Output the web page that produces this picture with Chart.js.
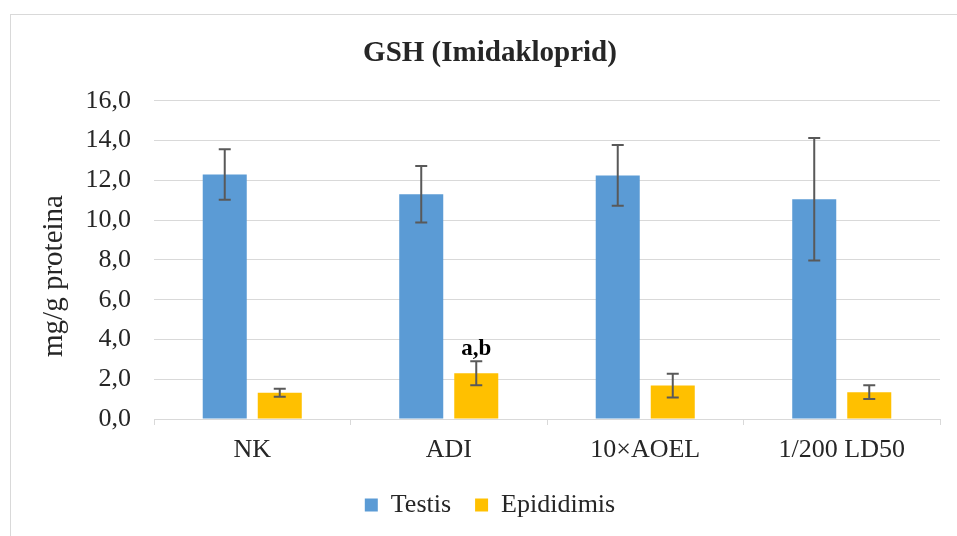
<!DOCTYPE html>
<html>
<head>
<meta charset="utf-8">
<script src="https://cdn.jsdelivr.net/npm/chart.js@4.4.1/dist/chart.umd.min.js"></script>
<style>
  html, body { margin: 0; padding: 0; background: #fff; overflow: hidden; }
  #wrap { position: relative; width: 980px; height: 580px; }
  #frame { position: absolute; left: 10px; top: 14px; width: 960px; height: 560px; border: 1px solid #d9d9d9; box-sizing: border-box; }
  canvas { position: absolute; left: 0; top: 0; }
</style>
</head>
<body>
<div id="wrap">
  <div id="frame"></div>
  <canvas id="myChart" width="980" height="580"></canvas>
</div>
<script>
const groups = ['NK', 'ADI', '10×AOEL', '1/200 LD50']
const testis = [12.3, 11.3, 12.25, 11.05]
const testisErr = [1.27, 1.42, 1.53, 3.08]
const epididimis = [1.32, 2.3, 1.68, 1.35]
const epididimisErr = [0.2, 0.6, 0.6, 0.35]
const epididimisMarks = ['', 'a,b', '', '']
const yTicks = { min: 0, max: 16, step: 2 }

const serif = '"Liberation Serif", "Times New Roman", serif'
const textColor = '#262626'
const gridColor = '#d9d9d9'

const errorBars = {
  id: 'errorBars',
  afterDatasetsDraw(chart) {
    const ctx = chart.ctx
    const y = chart.scales.y
    ctx.save()
    chart.data.datasets.forEach((ds, di) => {
      const meta = chart.getDatasetMeta(di)
      meta.data.forEach((bar, i) => {
        const v = ds.data[i]
        const e = ds.errors[i]
        const top = y.getPixelForValue(v + e)
        const bottom = y.getPixelForValue(v - e)
        ctx.strokeStyle = '#595959'
        ctx.lineWidth = 2
        ctx.beginPath()
        ctx.moveTo(bar.x, top)
        ctx.lineTo(bar.x, bottom)
        ctx.moveTo(bar.x - 6, top)
        ctx.lineTo(bar.x + 6, top)
        ctx.moveTo(bar.x - 6, bottom)
        ctx.lineTo(bar.x + 6, bottom)
        ctx.stroke()
        if (ds.marks && ds.marks[i]) {
          ctx.fillStyle = '#000'
          ctx.font = 'bold 23px ' + serif
          ctx.textAlign = 'center'
          ctx.textBaseline = 'alphabetic'
          ctx.fillText(ds.marks[i], bar.x, top - 6)
        }
      })
    })
    ctx.restore()
  }
}

const yTitle = {
  id: 'yTitle',
  afterDraw(chart) {
    const ctx = chart.ctx
    ctx.save()
    ctx.translate(54, 276)
    ctx.rotate(-Math.PI / 2)
    ctx.fillStyle = textColor
    ctx.font = '29px ' + serif
    ctx.textAlign = 'center'
    ctx.textBaseline = 'middle'
    ctx.fillText('mg/g proteina', 0, 0)
    ctx.restore()
  }
}

const config = {
  type: 'bar',
  data: {
    labels: groups,
    datasets: [
      { label: 'Testis', data: testis, errors: testisErr, backgroundColor: '#5b9bd5',
        categoryPercentage: 0.56, barPercentage: 0.8 },
      { label: 'Epididimis', data: epididimis, errors: epididimisErr, marks: epididimisMarks,
        backgroundColor: '#ffc000', categoryPercentage: 0.56, barPercentage: 0.8 }
    ]
  },
  options: {
    responsive: false,
    animation: false,
    layout: { padding: { left: 40, right: 40, top: 0, bottom: 52 } },
    scales: {
      x: {
        grid: { offset: true, drawOnChartArea: false, color: gridColor, tickLength: 6 },
        border: { color: gridColor },
        ticks: { color: textColor, font: { family: serif, size: 26 }, padding: 10 },
        afterFit: (s) => { s.height = 49 }
      },
      y: {
        min: yTicks.min,
        max: yTicks.max,
        grid: { color: gridColor, drawTicks: false },
        border: { display: false },
        ticks: {
          stepSize: yTicks.step,
          color: textColor,
          font: { family: serif, size: 26 },
          padding: 23,
          callback: (v) => v.toFixed(1).replace('.', ',')
        },
        afterFit: (s) => { s.width = 114 }
      }
    },
    plugins: {
      title: {
        display: true,
        text: 'GSH (Imidakloprid)',
        color: textColor,
        font: { family: serif, size: 29, weight: 'bold' },
        padding: { top: 36, bottom: 30 }
      },
      legend: {
        position: 'bottom',
        labels: { color: textColor, font: { family: serif, size: 26 }, boxWidth: 13, boxHeight: 13, padding: 24 }
      },
      tooltip: { enabled: false }
    }
  },
  plugins: [errorBars, yTitle]
}

new Chart(document.getElementById('myChart'), config)
</script>
</body>
</html>
